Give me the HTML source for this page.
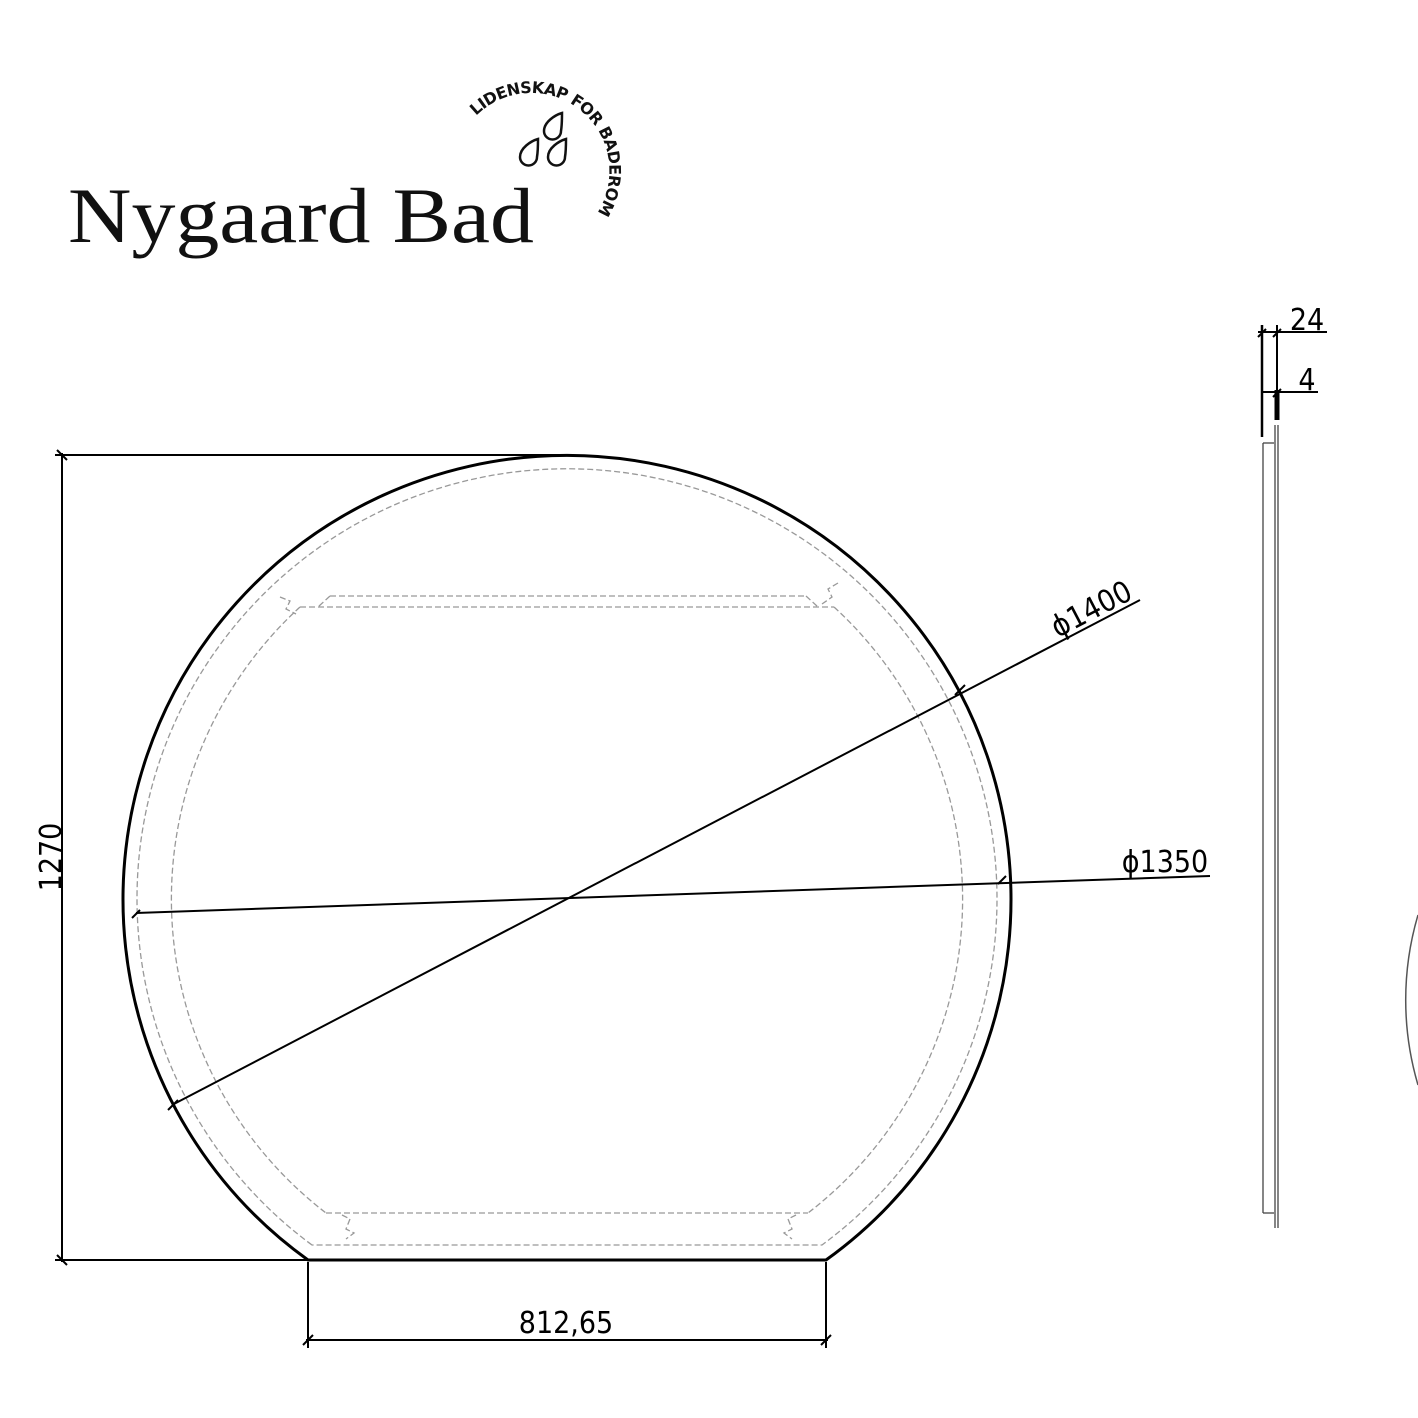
<!DOCTYPE html>
<html><head><meta charset="utf-8"><style>html,body{margin:0;padding:0;background:#fff}svg{display:block}</style></head><body>
<svg width="1418" height="1418" viewBox="0 0 1418 1418" xmlns="http://www.w3.org/2000/svg">
<defs><path id="arc" d="M 476 116 A 78 78 0 0 1 600 208"/></defs>
<text x="68" y="242" font-family="Liberation Serif, serif" font-size="78" fill="#111" textLength="466" lengthAdjust="spacingAndGlyphs">Nygaard Bad</text>
<text font-family="DejaVu Sans, sans-serif" font-weight="bold" font-size="16" fill="#111" textLength="228" lengthAdjust="spacing"><textPath href="#arc">LIDENSKAP FOR BADEROM</textPath></text>
<g fill="none" stroke="#111" stroke-width="2.5">
<path transform="translate(552,128)" d="M10 -15 C3 -13 -8 -6 -8 3 A8.5 8.5 0 0 0 9 3 C10 -3 10 -10 10 -15Z"/>
<path transform="translate(528,154)" d="M10 -15 C3 -13 -8 -6 -8 3 A8.5 8.5 0 0 0 9 3 C10 -3 10 -10 10 -15Z"/>
<path transform="translate(556,154)" d="M10 -15 C3 -13 -8 -6 -8 3 A8.5 8.5 0 0 0 9 3 C10 -3 10 -10 10 -15Z"/>
</g>
<path d="M 308 1260 A 444 444 0 1 1 826 1260 Z" stroke="#000" stroke-width="3" fill="none"/>
<g fill="none" stroke="#999" stroke-width="1.3" stroke-dasharray="6 3">
<path d="M 312 1245 A 430 430 0 1 1 822 1245 Z"/>
<path d="M 300 607 A 396 396 0 0 0 326 1213"/>
<path d="M 834 607 A 396 396 0 0 1 808 1213"/>
<path d="M 300 607 L 834 607 M 330 596 L 806 596 M 330 596 L 318 607 M 806 596 L 818 607"/>
<path d="M 280 597 l10 4 -4 8 10 5 M 838 583 l-10 6 4 8 -10 7"/>
<path d="M 326 1213 L 808 1213"/>
<path d="M 342 1215 l8 4 -4 10 8 4 -8 6 M 796 1215 l-8 4 4 10 -8 4 8 6"/>
</g>
<g stroke="#000" stroke-width="2" fill="none">
<line x1="62" y1="453" x2="62" y2="1262"/>
<line x1="55" y1="455" x2="572" y2="455"/>
<line x1="55" y1="1260" x2="308" y2="1260"/>
<line x1="308" y1="1262" x2="308" y2="1348"/>
<line x1="826" y1="1262" x2="826" y2="1348"/>
<line x1="306" y1="1340" x2="828" y2="1340"/>
<line x1="172" y1="1105" x2="1140" y2="600"/>
<line x1="136" y1="913" x2="1210" y2="876"/>
<path d="M57 450l10 10M57 1255l10 10M303 1345l10-10M821 1345l10-10M168 1110l10-10M955 695l10-10M132 918l8-8M998 884l8-8"/>
</g>
<g font-family="DejaVu Sans Condensed, DejaVu Sans, sans-serif" font-size="30" fill="#000">
<text x="566" y="1333" text-anchor="middle">812,65</text>
<text transform="translate(61,857) rotate(-90)" text-anchor="middle">1270</text>
<text transform="translate(1096,618) rotate(-27.5)" text-anchor="middle">ϕ1400</text>
<text x="1165" y="872" text-anchor="middle">ϕ1350</text>
<text x="1307" y="330" text-anchor="middle">24</text>
<text x="1307" y="390" text-anchor="middle">4</text>
</g>
<g stroke="#000" fill="none">
<line x1="1262" y1="325" x2="1262" y2="437" stroke-width="2.5"/>
<line x1="1277" y1="325" x2="1277" y2="420" stroke-width="2"/>
<line x1="1277" y1="390" x2="1277" y2="420" stroke-width="5"/>
<line x1="1258" y1="332" x2="1327" y2="332" stroke-width="2"/>
<line x1="1262" y1="392" x2="1318" y2="392" stroke-width="2"/>
<path d="M1258 337l8-8M1273 337l8-8M1273 397l8-8" stroke-width="2"/>
<g stroke="#444" stroke-width="1.3">
<line x1="1275" y1="425" x2="1275" y2="1228"/>
<line x1="1278" y1="425" x2="1278" y2="1228"/>
<line x1="1263" y1="443" x2="1263" y2="1213"/>
<line x1="1263" y1="443" x2="1274" y2="443"/>
<line x1="1263" y1="1213" x2="1274" y2="1213"/>
</g>
</g>
<path d="M1418 915 A 300 300 0 0 0 1418 1085" stroke="#555" stroke-width="1.5" fill="none"/>
</svg>
</body></html>
